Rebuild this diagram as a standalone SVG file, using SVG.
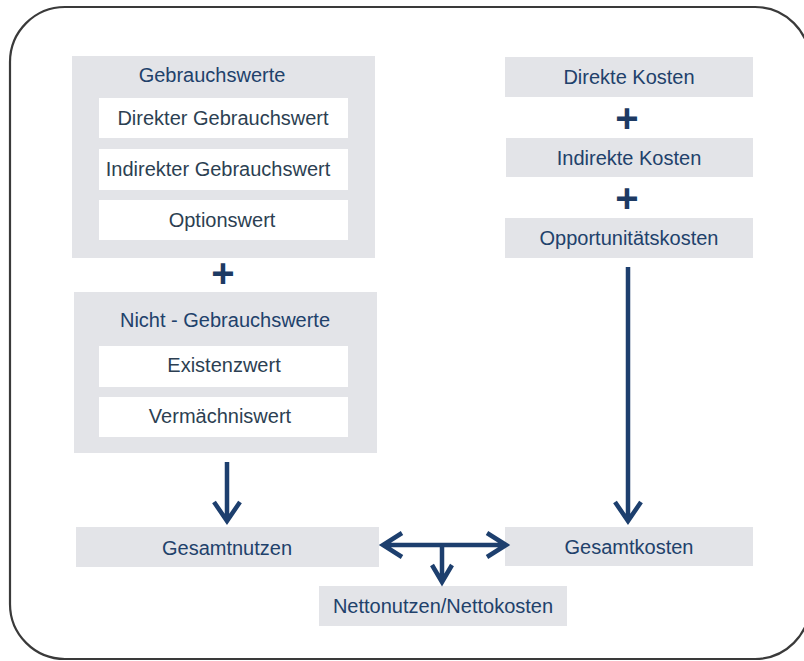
<svg xmlns="http://www.w3.org/2000/svg" width="804" height="661" viewBox="0 0 804 661">
<style>
.frame{fill:#fff;stroke:#3a3a3a;stroke-width:2.2}
.box{fill:#e3e4e8}
.inner{fill:#fff}
text{font-family:"Liberation Sans",Arial,sans-serif;font-size:20px;text-anchor:middle}
.t{fill:#21416b}
.ti{fill:#2c3f52}
.plus{fill:#1d3a63;font-size:40px;font-weight:bold}
.arr{fill:none;stroke:#1d3f6e;stroke-width:4.5;stroke-linecap:butt;stroke-linejoin:miter}
</style>
<rect width="804" height="661" fill="#fff"/>
<rect class="frame" x="10" y="7" width="800" height="652" rx="55" ry="55"/>

<g id="gebrauchswerte">
<rect class="box" x="72" y="56" width="303" height="202"/>
<text class="t" x="212" y="82">Gebrauchswerte</text>
</g>
<g id="direkter">
<rect class="inner" x="99" y="98" width="249" height="40"/>
<text class="ti" x="223" y="125">Direkter Gebrauchswert</text>
</g>
<g id="indirekter">
<rect class="inner" x="99" y="149" width="249" height="41"/>
<text class="ti" x="218" y="176">Indirekter Gebrauchswert</text>
</g>
<g id="optionswert">
<rect class="inner" x="99" y="200" width="249" height="40"/>
<text class="ti" x="222" y="227">Optionswert</text>
</g>
<g id="plus1"><text class="plus" x="223" y="287">+</text></g>

<g id="nichtgebrauchswerte">
<rect class="box" x="74" y="292" width="303" height="161"/>
<text class="t" x="225" y="327">Nicht - Gebrauchswerte</text>
</g>
<g id="existenzwert">
<rect class="inner" x="99" y="346" width="249" height="41"/>
<text class="ti" x="224" y="372">Existenzwert</text>
</g>
<g id="vermaechtniswert">
<rect class="inner" x="99" y="397" width="249" height="40"/>
<text class="ti" x="220" y="423">Vermächniswert</text>
</g>

<g id="gesamtnutzen">
<rect class="box" x="76" y="527" width="303" height="40"/>
<text class="t" x="227" y="555">Gesamtnutzen</text>
</g>

<g id="direkteKosten">
<rect class="box" x="505" y="57" width="248" height="40"/>
<text class="t" x="629" y="84">Direkte Kosten</text>
</g>
<g id="plus2"><text class="plus" x="627" y="132">+</text></g>
<g id="indirekteKosten">
<rect class="box" x="506" y="138" width="247" height="39"/>
<text class="t" x="629" y="165">Indirekte Kosten</text>
</g>
<g id="plus3"><text class="plus" x="627" y="212">+</text></g>
<g id="opportunitaetskosten">
<rect class="box" x="505" y="218" width="248" height="40"/>
<text class="t" x="629" y="245">Opportunitätskosten</text>
</g>

<g id="gesamtkosten">
<rect class="box" x="505" y="527" width="248" height="39"/>
<text class="t" x="629" y="554">Gesamtkosten</text>
</g>

<g id="netto">
<rect class="box" x="319" y="586" width="248" height="40"/>
<text class="t" x="443" y="613">Nettonutzen/Nettokosten</text>
</g>

<g id="connectors">
<path class="arr" d="M227 462V520M214 502L227 521L240 502"/>
<path class="arr" d="M628 267V520M615 502L628 521L641 502"/>
<path class="arr" d="M384 545H505M402 533L383 545L402 557M487 533L506 545L487 557"/>
<path class="arr" d="M442 545V581M432 565L442 582L452 565"/>
</g>
</svg>
